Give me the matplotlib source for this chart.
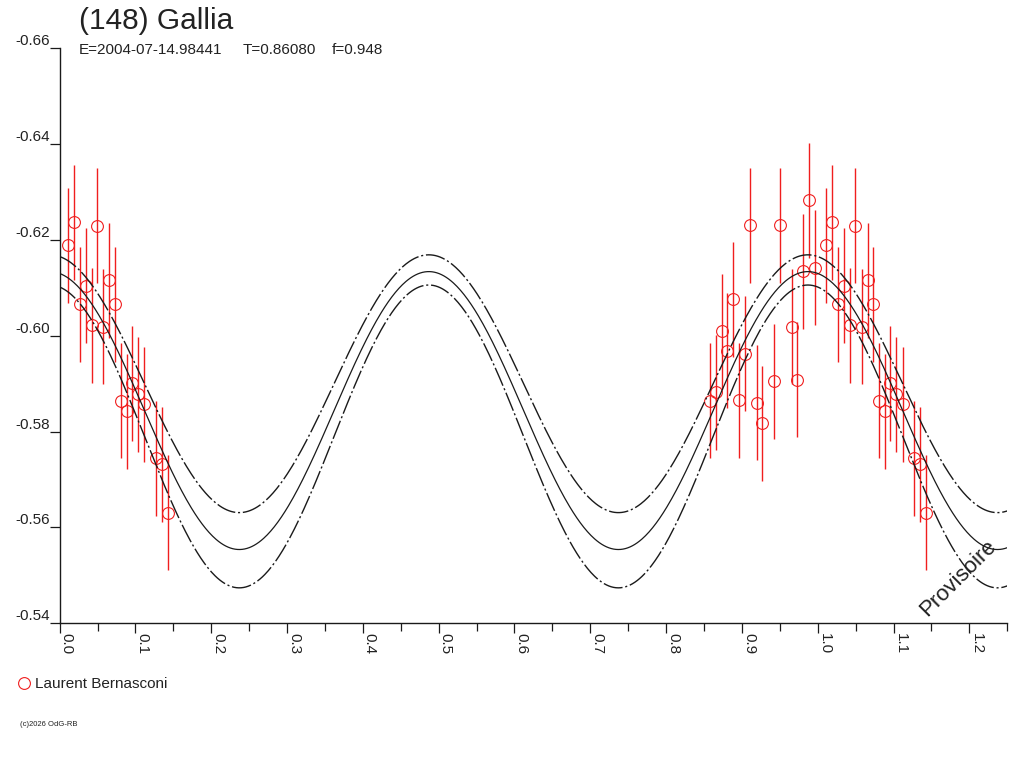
import numpy as np
import matplotlib
matplotlib.use("Agg")
import matplotlib.pyplot as plt
from matplotlib.lines import Line2D
from matplotlib.ticker import MultipleLocator, FormatStrFormatter

plt.rcParams["font.family"] = ["Liberation Sans", "DejaVu Sans"]
plt.rcParams["axes.unicode_minus"] = False

# observations (phase, reduced magnitude), one sigma error bars
phase = [0.0115, 0.0194, 0.0269, 0.0344, 0.0423, 0.0497, 0.0577, 0.0656, 0.0731,
         0.0810, 0.0885, 0.0959, 0.1038, 0.1118, 0.1272, 0.1355, 0.1426,
         0.8580, 0.8656, 0.8735, 0.8809, 0.8888, 0.8963, 0.9042, 0.9112, 0.9197,
         0.9271, 0.9420, 0.9504, 0.9658, 0.9732, 0.9811, 0.9890, 0.9966]
mag = [-0.6189, -0.6237, -0.6066, -0.6104, -0.6022, -0.6230, -0.6019, -0.6116, -0.6066,
       -0.5864, -0.5843, -0.5901, -0.5878, -0.5857, -0.5744, -0.5732, -0.5631,
       -0.5864, -0.5882, -0.6010, -0.5969, -0.6076, -0.5866, -0.5963, -0.6231, -0.5860,
       -0.5818, -0.5905, -0.6231, -0.6019, -0.5908, -0.6135, -0.6283, -0.6142]
err = 0.012

# fitted light curve: mean - amp * cos(4 pi (phi - phi_max)), nominal and envelopes
fit_mean = [-0.5900, -0.5844, -0.5790]
fit_amp = [0.0269, 0.0290, 0.0316]
fit_phmax = 0.487
fit_style = ["dash", "solid", "dash"]

observer = "Laurent Bernasconi"
RED = "#f01e1e"
INK = "#1a1a1a"

fig = plt.figure(figsize=(10.24, 7.68), dpi=100)
ax = fig.add_axes([0.0582, 0.1884, 0.9255, 0.7487])

# repeat the start of the cycle beyond phase 1
ph = np.asarray(phase)
mg = np.asarray(mag)
rep = ph + 1.0 <= 1.25
px = np.concatenate([ph, ph[rep] + 1.0])
py = np.concatenate([mg, mg[rep]])
ax.errorbar(px, py, yerr=err, fmt="o", ms=8.5, mfc="none", mec=RED, mew=0.8,
            ecolor=RED, elinewidth=1.0, capsize=0, zorder=2)

t = np.linspace(0.0, 1.25, 800)
for m, a, st in zip(fit_mean, fit_amp, fit_style):
    y = m - a * np.cos(4 * np.pi * (t - fit_phmax))
    if st == "solid":
        ax.plot(t, y, color=INK, lw=0.9, zorder=3)
    else:
        ax.plot(t, y, color=INK, lw=1.0, ls=(0, (14, 2, 1.5, 2)), zorder=3)

ax.set_xlim(0.0, 1.25)
ax.set_ylim(-0.54, -0.66)
ax.spines["top"].set_visible(False)
ax.spines["right"].set_visible(False)
for s in ("left", "bottom"):
    ax.spines[s].set_color(INK)
    ax.spines[s].set_linewidth(1.0)

ax.xaxis.set_major_locator(MultipleLocator(0.1))
ax.xaxis.set_minor_locator(MultipleLocator(0.05))
ax.xaxis.set_major_formatter(FormatStrFormatter("%.1f"))
ax.yaxis.set_major_locator(MultipleLocator(0.02))
ax.yaxis.set_major_formatter(FormatStrFormatter("%.2f"))
ax.tick_params(axis="x", which="major", length=7.2, width=0.9, pad=0, labelsize=11,
               color=INK, labelcolor="#222222")
ax.tick_params(axis="x", which="minor", length=5.5, width=0.9, color=INK)
ax.tick_params(axis="y", which="major", length=7.2, width=0.9, pad=0, labelsize=11,
               color=INK, labelcolor="#222222")
fig.canvas.draw()
for lab in ax.get_xticklabels():
    lab.set_rotation(-90)
    lab.set_ha("left")
    lab.set_va("top")
for lab in ax.get_yticklabels():
    lab.set_va("bottom")

ax.text(1.1846, -0.5495, "Provisoire", rotation=45, ha="center", va="center",
        fontsize=16, color="#222222")

fig.text(79 / 1024, 1 - 29 / 768, "(148) Gallia", fontsize=21.5, color="#222222",
         va="baseline", ha="left")
fig.text(79 / 1024, 1 - 54.3 / 768, "E=2004-07-14.98441", fontsize=11, color="#222222",
         va="baseline")
fig.text(243 / 1024, 1 - 54.3 / 768, "T=0.86080", fontsize=11, color="#222222",
         va="baseline")
fig.text(332 / 1024, 1 - 54.3 / 768, "f=0.948", fontsize=11, color="#222222",
         va="baseline")

fig.add_artist(Line2D([24 / 1024], [1 - 682.7 / 768], marker="o", ms=8.5, mfc="none",
                      mec=RED, mew=0.8, ls="none"))
fig.text(35 / 1024, 1 - 687.7 / 768, observer, fontsize=11, color="#222222",
         va="baseline")
fig.text(20 / 1024, 1 - 725 / 768, "(c)2026 OdG-RB", fontsize=5.5, color="#222222",
         va="center")

fig.savefig("out.png", dpi=100)
